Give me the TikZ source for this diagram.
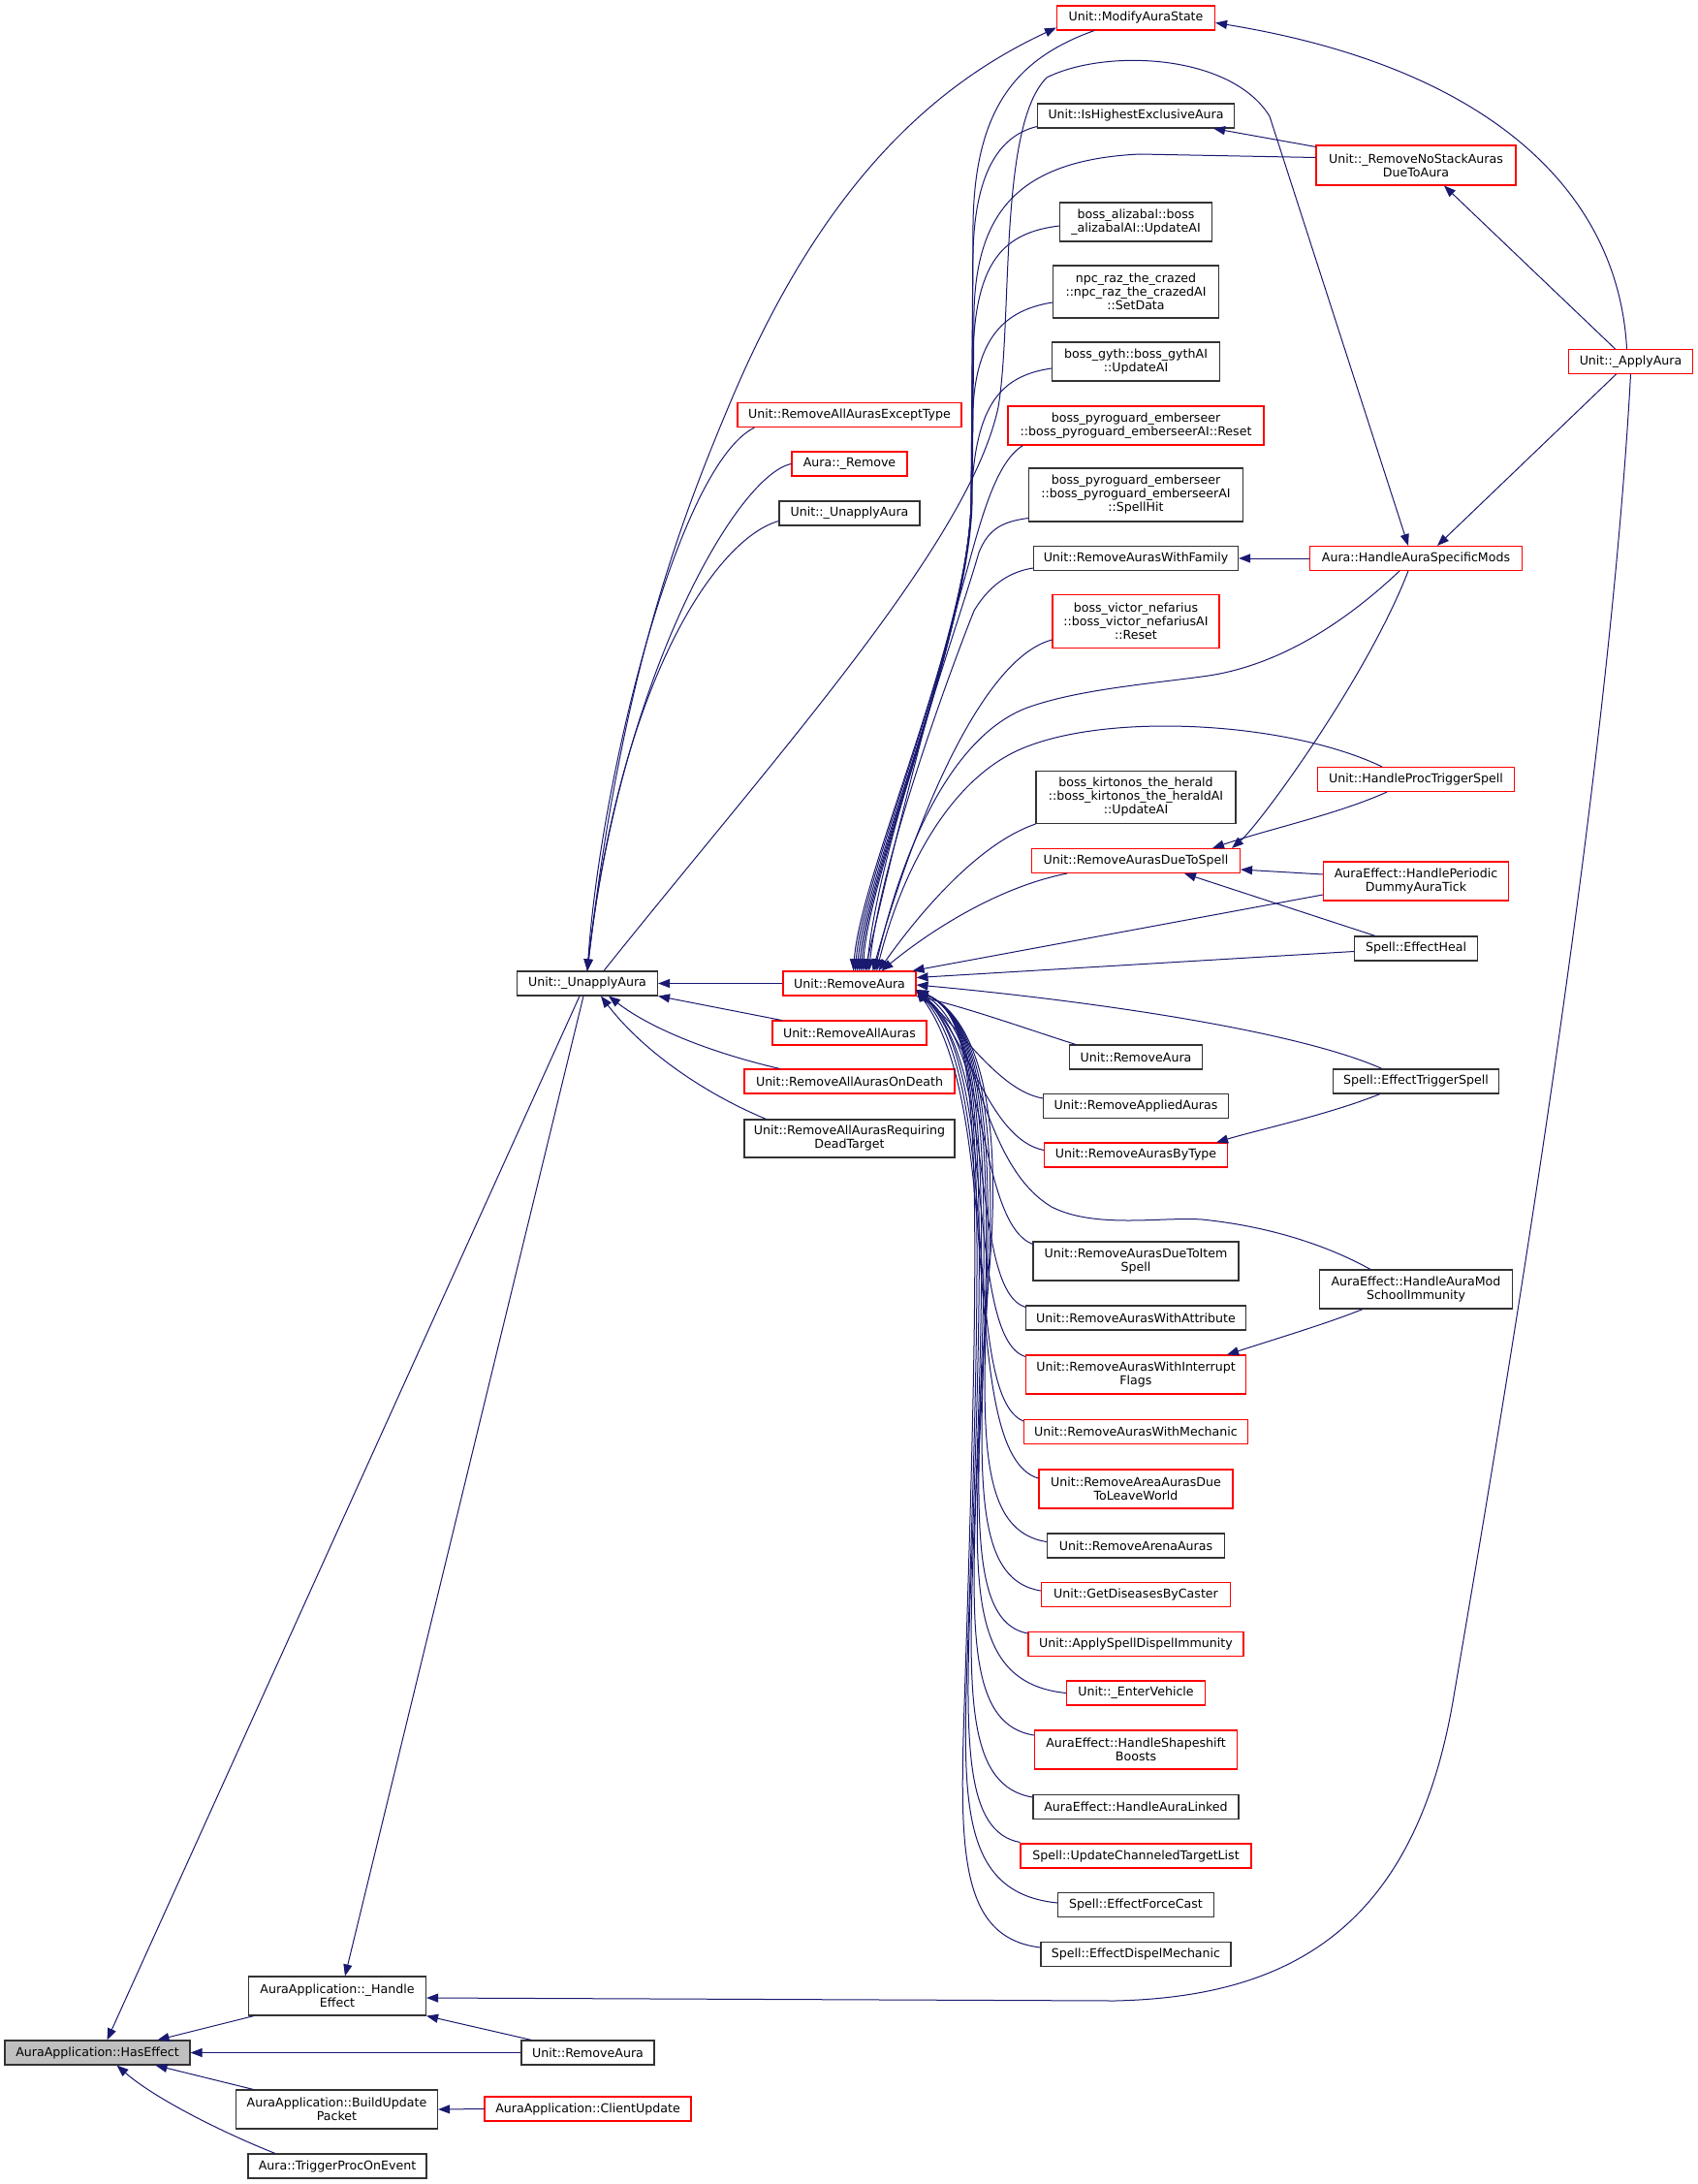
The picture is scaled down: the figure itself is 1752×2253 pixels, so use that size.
\documentclass[tikz,border=0pt]{standalone}
\usepackage{fontspec}
\setmainfont{DejaVu Sans}
\usetikzlibrary{arrows.meta}
\definecolor{edgeblue}{HTML}{191970}
\tikzset{
  fnbox/.style={draw=black!80, line width=1.1pt, fill=white, inner sep=0pt, align=center,
    minimum height=25pt, font=\fontsize{12.6}{14}\selectfont},
  redfn/.style={fnbox, draw=red},
  rootfn/.style={fnbox, fill=black!25},
  call/.style={<-, draw=edgeblue, line width=1pt},
}

\begin{document}
\begin{tikzpicture}[x=1pt, y=-1pt, >={Triangle[length=12pt,width=9pt]}]
  \useasboundingbox (0,0) rectangle (1752,2253);

  % left part
  \node[rootfn, minimum width=191pt] (hasEffect) at (100.5,2117.5) {AuraApplication::HasEffect};
  \node[fnbox, minimum width=183pt, minimum height=40pt] (handleEffect) at (348,2059) {AuraApplication::\_Handle\\Effect};
  \node[fnbox, minimum width=208pt, minimum height=40pt] (buildUpdate) at (347.5,2176) {AuraApplication::BuildUpdate\\Packet};
  \node[fnbox, minimum width=184pt] (triggerProc) at (348,2234.5) {Aura::TriggerProcOnEvent};
  \node[fnbox, minimum width=145pt] (unapplyAura) at (606,1014.5) {Unit::\_UnapplyAura};
  \node[fnbox, minimum width=137pt] (removeAuraB) at (606.5,2117.5) {Unit::RemoveAura};
  \node[redfn, minimum width=213pt] (clientUpdate) at (606.5,2175.5) {AuraApplication::ClientUpdate};

  % callers of _UnapplyAura
  \node[redfn, minimum width=231pt] (exceptType) at (876.5,428) {Unit::RemoveAllAurasExceptType};
  \node[redfn, minimum width=119pt] (auraRemove) at (876.5,478.5) {Aura::\_Remove};
  \node[fnbox, minimum width=145pt] (unapplyAura2) at (876.5,529.5) {Unit::\_UnapplyAura};
  \node[redfn, minimum width=137pt] (rmAura) at (876.5,1014.5) {Unit::RemoveAura};
  \node[redfn, minimum width=159pt] (rmAllAuras) at (876.5,1065.5) {Unit::RemoveAllAuras};
  \node[redfn, minimum width=217pt] (rmAllOnDeath) at (876.5,1115.5) {Unit::RemoveAllAurasOnDeath};
  \node[fnbox, minimum width=217pt, minimum height=39pt] (rmAllDead) at (876.5,1174.5) {Unit::RemoveAllAurasRequiring\\DeadTarget};

  % callers of RemoveAura
  \node[redfn, minimum width=163pt] (modifyState) at (1172,18.5) {Unit::ModifyAuraState};
  \node[fnbox, minimum width=203pt] (isHighest) at (1172,119.5) {Unit::IsHighestExclusiveAura};
  \node[fnbox, minimum width=157pt, minimum height=40pt] (alizabal) at (1172,229) {boss\_alizabal::boss\\\_alizabalAI::UpdateAI};
  \node[fnbox, minimum width=171pt, minimum height=54pt] (razData) at (1172,301) {npc\_raz\_the\_crazed\\::npc\_raz\_the\_crazedAI\\::SetData};
  \node[fnbox, minimum width=173pt, minimum height=40pt] (gyth) at (1172,373) {boss\_gyth::boss\_gythAI\\::UpdateAI};
  \node[redfn, minimum width=264pt, minimum height=40pt] (pyroReset) at (1172,439) {boss\_pyroguard\_emberseer\\::boss\_pyroguard\_emberseerAI::Reset};
  \node[fnbox, minimum width=221pt, minimum height=55pt] (pyroHit) at (1172,510.5) {boss\_pyroguard\_emberseer\\::boss\_pyroguard\_emberseerAI\\::SpellHit};
  \node[fnbox, minimum width=211pt] (withFamily) at (1172,576) {Unit::RemoveAurasWithFamily};
  \node[redfn, minimum width=172pt, minimum height=55pt] (victor) at (1172,641) {boss\_victor\_nefarius\\::boss\_victor\_nefariusAI\\::Reset};
  \node[fnbox, minimum width=206pt, minimum height=54pt] (kirtonos) at (1172,822.5) {boss\_kirtonos\_the\_herald\\::boss\_kirtonos\_the\_heraldAI\\::UpdateAI};
  \node[redfn, minimum width=215pt] (dueToSpell) at (1172,888) {Unit::RemoveAurasDueToSpell};
  \node[fnbox, minimum width=137pt] (rmAuraR) at (1172,1090.5) {Unit::RemoveAura};
  \node[fnbox, minimum width=191pt] (appliedAuras) at (1172,1141) {Unit::RemoveAppliedAuras};
  \node[redfn, minimum width=189pt] (byType) at (1172,1191.5) {Unit::RemoveAurasByType};
  \node[fnbox, minimum width=212pt, minimum height=40pt] (dueToItem) at (1172,1301) {Unit::RemoveAurasDueToItem\\Spell};
  \node[fnbox, minimum width=227pt] (withAttribute) at (1172,1359.5) {Unit::RemoveAurasWithAttribute};
  \node[redfn, minimum width=227pt, minimum height=40pt] (interruptFlags) at (1172,1418) {Unit::RemoveAurasWithInterrupt\\Flags};
  \node[redfn, minimum width=231pt] (withMechanic) at (1172,1477) {Unit::RemoveAurasWithMechanic};
  \node[redfn, minimum width=200pt, minimum height=40pt] (areaAuras) at (1172,1536) {Unit::RemoveAreaAurasDue\\ToLeaveWorld};
  \node[fnbox, minimum width=183pt] (arenaAuras) at (1172,1594.5) {Unit::RemoveArenaAuras};
  \node[redfn, minimum width=195pt] (diseases) at (1172,1645) {Unit::GetDiseasesByCaster};
  \node[redfn, minimum width=222pt] (dispelImmunity) at (1172,1696) {Unit::ApplySpellDispelImmunity};
  \node[redfn, minimum width=143pt] (enterVehicle) at (1172,1746.5) {Unit::\_EnterVehicle};
  \node[redfn, minimum width=209pt, minimum height=40pt] (shapeshift) at (1172,1805) {AuraEffect::HandleShapeshift\\Boosts};
  \node[fnbox, minimum width=212pt] (auraLinked) at (1172,1864) {AuraEffect::HandleAuraLinked};
  \node[redfn, minimum width=238pt] (channeled) at (1172,1914.5) {Spell::UpdateChanneledTargetList};
  \node[fnbox, minimum width=161pt] (forceCast) at (1172,1965) {Spell::EffectForceCast};
  \node[fnbox, minimum width=196pt] (dispelMech) at (1172,2016) {Spell::EffectDispelMechanic};

  % right part
  \node[redfn, minimum width=206pt, minimum height=41pt] (noStack) at (1461,170.5) {Unit::\_RemoveNoStackAuras\\DueToAura};
  \node[redfn, minimum width=219pt] (specificMods) at (1461,576) {Aura::HandleAuraSpecificMods};
  \node[redfn, minimum width=203pt] (procTrigger) at (1461,804) {Unit::HandleProcTriggerSpell};
  \node[redfn, minimum width=191pt, minimum height=40pt] (periodicDummy) at (1461,909) {AuraEffect::HandlePeriodic\\DummyAuraTick};
  \node[fnbox, minimum width=127pt] (effectHeal) at (1461,978.5) {Spell::EffectHeal};
  \node[fnbox, minimum width=171pt] (triggerSpell) at (1461,1115.5) {Spell::EffectTriggerSpell};
  \node[fnbox, minimum width=199pt, minimum height=40pt] (schoolImmunity) at (1461,1330) {AuraEffect::HandleAuraMod\\SchoolImmunity};
  \node[redfn, minimum width=128pt] (applyAura) at (1682.5,373) {Unit::\_ApplyAura};

  % edges to HasEffect and its direct callers
  \draw[call] ([xshift=10pt]hasEffect.north) -- ([xshift=-8pt]unapplyAura.south);
  \draw[call] ([xshift=8pt]handleEffect.north) -- ([xshift=-4pt]unapplyAura.south);
  \draw[call] ([xshift=62pt]hasEffect.north) -- ([xshift=-86pt]handleEffect.south);
  \draw[call] (hasEffect.east) -- (removeAuraB.west);
  \draw[call] ([xshift=60pt]hasEffect.south) -- ([xshift=-86pt]buildUpdate.north);
  \draw[call] ([xshift=20pt]hasEffect.south) .. controls (160,2165) and (230,2200) .. ([xshift=-64pt]triggerProc.north);
  \draw[call] (handleEffect.south east) -- ([xshift=-58pt]removeAuraB.north);
  \draw[call] (buildUpdate.east) -- (clientUpdate.west);
  \draw[call] ([yshift=-2pt]handleEffect.east) -- (1150,2064) .. controls (1330,2060) and (1460,1990) .. (1500,1750)
    .. controls (1560,1400) and (1660,800) .. (applyAura.south);

  % edges to _UnapplyAura
  \draw[call] (unapplyAura.east) -- (rmAura.west);
  \draw[call] (unapplyAura.south east) -- ([xshift=10pt]rmAllAuras.north west);
  \draw[call] ([xshift=22pt]unapplyAura.south) .. controls (670,1060) and (730,1085) .. ([xshift=37pt]rmAllOnDeath.north west);
  \draw[call] ([xshift=14pt]unapplyAura.south) .. controls (660,1080) and (720,1125) .. ([xshift=23pt]rmAllDead.north west);
  \draw[call] (unapplyAura.north) .. controls (620,800) and (700,480) .. ([xshift=18pt]exceptType.south west);
  \draw[call] (unapplyAura.north) .. controls (640,700) and (760,490) .. (auraRemove.west);
  \draw[call] (unapplyAura.north) .. controls (640,700) and (740,555) .. ([yshift=-8pt]unapplyAura2.west);
  \draw[call] ([yshift=-10pt]modifyState.west) .. controls (980,80) and (860,170) .. (760,400)
    .. controls (700,540) and (640,700) .. (unapplyAura.north);
  \draw[call] ([xshift=-8pt]specificMods.north) -- (1310,120) .. controls (1270,55) and (1140,50) .. (1080,80)
    .. controls (1030,130) and (1045,330) .. (1030,420) .. controls (1000,560) and (800,780) .. ([xshift=17pt]unapplyAura.north);

  % edges to RemoveAura from above
  \draw[call] ([xshift=4pt]rmAura.north) .. controls (888,900) and (998,660) .. (1002,520) -- (1004,230)
    .. controls (1006,110) and (1050,60) .. ([xshift=-43pt]modifyState.south);
  \draw[call] ([xshift=6pt]rmAura.north) .. controls (890,900) and (998,660) .. (1002,520) -- (1004,260)
    .. controls (1006,180) and (1030,140) .. ([yshift=2pt]isHighest.south west);
  \draw[call] ([xshift=8pt]rmAura.north) .. controls (892,900) and (999,660) .. (1003,520) -- (1005,320)
    .. controls (1008,220) and (1050,165) .. (1176,159) -- ([yshift=8pt]noStack.west);
  \draw[call] ([xshift=10pt]rmAura.north) .. controls (894,900) and (998,660) .. (1002,520) -- (1004,360)
    .. controls (1008,270) and (1035,240) .. ([yshift=-4pt]alizabal.west);
  \draw[call] ([xshift=12pt]rmAura.north) .. controls (895,900) and (998,660) .. (1002,520) -- (1004,420)
    .. controls (1008,350) and (1035,320) .. ([yshift=-11pt]razData.west);
  \draw[call] ([xshift=14pt]rmAura.north) .. controls (896,900) and (998,660) .. (1002,520)
    .. controls (1005,420) and (1030,388) .. ([yshift=-7pt]gyth.west);
  \draw[call] ([xshift=16pt]rmAura.north) .. controls (920,880) and (955,740) .. (1000,580)
    .. controls (1015,525) and (1030,475) .. ([xshift=16pt]pyroReset.south west);
  \draw[call] ([xshift=18pt]rmAura.north) .. controls (905,880) and (990,640) .. (1010,570)
    .. controls (1020,545) and (1035,538) .. ([yshift=-24pt]pyroHit.west);
  \draw[call] ([xshift=20pt]rmAura.north) .. controls (910,880) and (985,680) .. (1005,630)
    .. controls (1020,605) and (1040,590) .. ([yshift=-10pt]withFamily.west);
  \draw[call] ([xshift=24pt]rmAura.north) .. controls (940,860) and (1010,680) .. ([yshift=-19pt]victor.west);
  \draw[call] ([xshift=26pt]rmAura.north) .. controls (930,880) and (980,760) .. (1060,730)
    .. controls (1110,712) and (1180,706) .. (1240,698) .. controls (1320,688) and (1390,640) .. ([xshift=-17pt]specificMods.south);
  \draw[call] ([xshift=28pt]rmAura.north) .. controls (930,900) and (980,800) .. (1060,770)
    .. controls (1150,735) and (1330,745) .. ([xshift=-35pt]procTrigger.north);
  \draw[call] ([xshift=30pt]rmAura.north) .. controls (950,940) and (1010,870) .. (kirtonos.south west);
  \draw[call] ([xshift=33pt]rmAura.north) .. controls (960,960) and (1030,915) .. ([xshift=37pt]dueToSpell.south west);
  \draw[call] ([xshift=-4pt]rmAura.north east) -- ([yshift=-14pt]periodicDummy.west);
  \draw[call] ([yshift=6pt]rmAura.east) -- ([yshift=-3pt]effectHeal.west);

  % edges to RemoveAura from below
  \draw[call] ([yshift=-1.5pt]rmAura.east) .. controls (1100,1030) and (1330,1060) .. ([xshift=-35pt]triggerSpell.north);
  \draw[call] (rmAura.south east) .. controls (1000,1040) and (1070,1065) .. ([xshift=-62pt]rmAuraR.north);
  \draw[call] ([yshift=-7pt]rmAura.east) .. controls (990,1060) and (1030,1125) .. ([yshift=8pt]appliedAuras.west);
  \draw[call] ([yshift=-7pt]rmAura.east) .. controls (1000,1070) and (1020,1175) .. ([yshift=5pt]byType.west);
  \draw[call] ([yshift=-7pt]rmAura.east) .. controls (1010,1060) and (1010,1200) .. (1085,1245)
    .. controls (1130,1268) and (1200,1255) .. (1240,1258) .. controls (1310,1265) and (1370,1285) .. ([xshift=-47pt]schoolImmunity.north);
  \draw[call] ([yshift=-7pt]rmAura.east) .. controls (1020,1080) and (1010,1262) .. ([yshift=-3pt]dueToItem.north west);
  \draw[call] ([yshift=-7pt]rmAura.east) .. controls (1030,1100) and (1000,1330) .. ([yshift=-2pt]withAttribute.north west);
  \draw[call] ([yshift=-7pt]rmAura.east) .. controls (1030,1100) and (995,1380) .. ([yshift=-2pt]interruptFlags.north west);
  \draw[call] ([yshift=-7pt]rmAura.east) .. controls (1035,1120) and (990,1440) .. ([yshift=-2pt]withMechanic.north west);
  \draw[call] ([yshift=-7pt]rmAura.east) .. controls (1040,1150) and (985,1500) .. ([yshift=11pt]areaAuras.west);
  \foreach \n/\dy/\xb/\yy in {arenaAuras/4/1018/1590, diseases/4/1015/1641, dispelImmunity/11/1012/1685,
      enterVehicle/0/1010/1747, shapeshift/15/1007/1790, auraLinked/10/1004/1853,
      channeled/14/1001/1900, forceCast/2/998/1963, dispelMech/7/995/2009}
    \draw[call] ([yshift=-7pt]rmAura.east) .. controls (1010,1050) and (\xb+20,1150) .. (\xb,\yy-250)
      .. controls (\xb-5,\yy-100) and (\xb-5,\yy-10) .. ([yshift=\dy pt]\n.west);

  % edges among the right-hand callers
  \draw[call] ([xshift=29pt]noStack.south) -- ([xshift=-16pt]applyAura.north);
  \draw[call] ([xshift=-22pt]isHighest.south east) -- ([yshift=-2pt]noStack.north west);
  \draw[call] ([yshift=-5pt]modifyState.east) .. controls (1540,70) and (1670,200) .. ([xshift=-4pt]applyAura.north);
  \draw[call] ([xshift=22pt]specificMods.north) -- ([xshift=-15pt]applyAura.south);
  \draw[call] (withFamily.east) -- (specificMods.west);
  \draw[call] ([xshift=-9pt]dueToSpell.north east) .. controls (1300,850) and (1410,700) .. ([xshift=-8pt]specificMods.south);
  \draw[call] ([xshift=-29pt]dueToSpell.north east) .. controls (1310,855) and (1380,840) .. ([xshift=-30pt]procTrigger.south);
  \draw[call] ([yshift=-9pt]dueToSpell.east) -- ([yshift=7pt]periodicDummy.west);
  \draw[call] ([xshift=50pt]dueToSpell.south) -- ([xshift=-42pt]effectHeal.north);
  \draw[call] ([xshift=-12pt]byType.north east) .. controls (1300,1165) and (1370,1150) .. ([xshift=-37pt]triggerSpell.south);
  \draw[call] ([xshift=-20pt]interruptFlags.north east) .. controls (1320,1380) and (1370,1365) .. ([xshift=-55pt]schoolImmunity.south);
\end{tikzpicture}
\end{document}
